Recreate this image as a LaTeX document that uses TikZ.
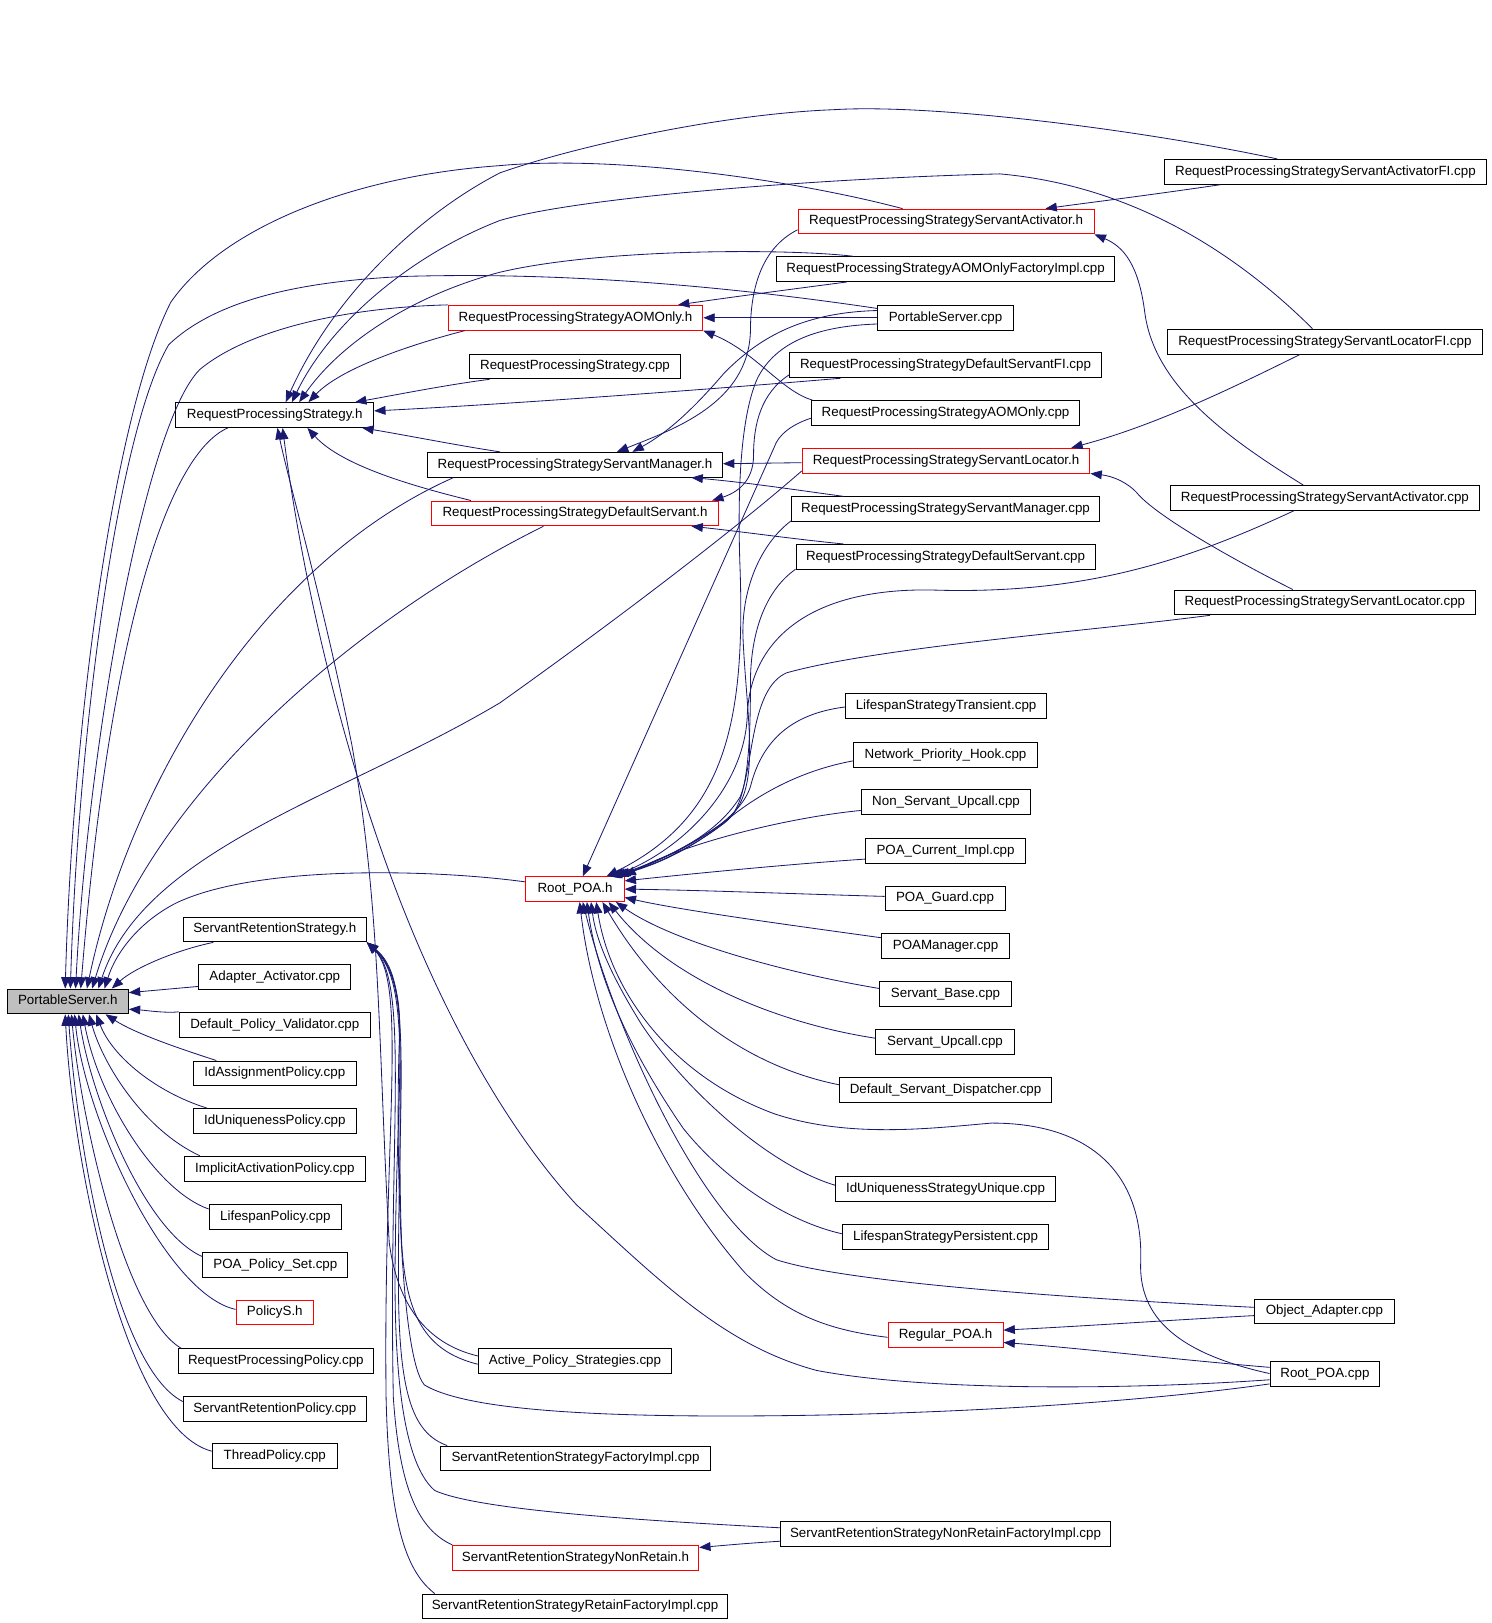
\documentclass[tikz,border=0pt]{standalone}
\usepackage{fontspec}
\setmainfont{Liberation Sans}
\usetikzlibrary{arrows.meta}
\definecolor{edgecol}{RGB}{25,25,112}
\definecolor{psgray}{RGB}{191,191,191}
\begin{document}
\begin{tikzpicture}[x=1pt,y=-1pt,
  box/.style={draw=black, line width=0.9pt, minimum height=24pt, inner sep=0pt,
    text height=9.4pt, text depth=2.7pt, font=\fontsize{12.9}{15}\selectfont, fill=white},
  rbox/.style={box, draw=red},
  e/.style={draw=edgecol, line width=0.8pt, -{Triangle[length=11pt,width=8.5pt]}}]
\useasboundingbox (0,0) rectangle (1441,1568);
% column 1
\node[box, fill=psgray, minimum width=117pt] (ps) at (65.5,967.5) {PortableServer.h};
% column 2
\node[box, minimum width=191pt] (rps) at (265.5,401) {RequestProcessingStrategy.h};
\node[box, minimum width=177pt] (srs) at (265.5,898) {ServantRetentionStrategy.h};
\node[box, minimum width=147pt] (aa) at (265.5,944) {Adapter\_Activator.cpp};
\node[box, minimum width=185pt] (dpv) at (265.5,990) {Default\_Policy\_Validator.cpp};
\node[box, minimum width=157pt] (iap) at (265.5,1037) {IdAssignmentPolicy.cpp};
\node[box, minimum width=157pt] (iup) at (265.5,1083) {IdUniquenessPolicy.cpp};
\node[box, minimum width=175pt] (iac) at (265.5,1129) {ImplicitActivationPolicy.cpp};
\node[box, minimum width=128pt] (lp) at (266,1176) {LifespanPolicy.cpp};
\node[box, minimum width=140pt] (pps) at (266,1222) {POA\_Policy\_Set.cpp};
\node[rbox, minimum width=75pt] (pol) at (265.5,1268) {PolicyS.h};
\node[box, minimum width=189pt] (rpp) at (266.5,1315) {RequestProcessingPolicy.cpp};
\node[box, minimum width=177pt] (srp) at (265.5,1361) {ServantRetentionPolicy.cpp};
\node[box, minimum width=121pt] (tp) at (265.5,1407) {ThreadPolicy.cpp};
% column 3
\node[rbox, minimum width=246pt] (aomh) at (556,307) {RequestProcessingStrategyAOMOnly.h};
\node[box, minimum width=203pt] (rpscpp) at (555.5,354) {RequestProcessingStrategy.cpp};
\node[box, minimum width=285pt] (smh) at (555.5,449) {RequestProcessingStrategyServantManager.h};
\node[rbox, minimum width=277pt] (dsh) at (555.5,496) {RequestProcessingStrategyDefaultServant.h};
\node[rbox, minimum width=95pt] (rooth) at (555.5,859) {Root\_POA.h};
\node[box, minimum width=187pt] (aps) at (555.5,1315) {Active\_Policy\_Strategies.cpp};
\node[box, minimum width=260pt] (srsfi) at (556,1409) {ServantRetentionStrategyFactoryImpl.cpp};
\node[rbox, minimum width=238pt] (nrh) at (556,1505) {ServantRetentionStrategyNonRetain.h};
\node[box, minimum width=295pt] (rfi) at (555.5,1552) {ServantRetentionStrategyRetainFactoryImpl.cpp};
% column 4
\node[rbox, minimum width=286pt] (sah) at (914,214) {RequestProcessingStrategyServantActivator.h};
\node[box, minimum width=327pt] (aomfi) at (913.5,260) {RequestProcessingStrategyAOMOnlyFactoryImpl.cpp};
\node[box, minimum width=131pt] (pscpp) at (913.5,307) {PortableServer.cpp};
\node[box, minimum width=301pt] (dsfi) at (913.5,353) {RequestProcessingStrategyDefaultServantFI.cpp};
\node[box, minimum width=259pt] (aomcpp) at (913.5,399) {RequestProcessingStrategyAOMOnly.cpp};
\node[rbox, minimum width=278pt] (slh) at (914,445) {RequestProcessingStrategyServantLocator.h};
\node[box, minimum width=297pt] (smcpp) at (913.5,492) {RequestProcessingStrategyServantManager.cpp};
\node[box, minimum width=289pt] (dscpp) at (913.5,538) {RequestProcessingStrategyDefaultServant.cpp};
\node[box, minimum width=194pt] (lst) at (914,682) {LifespanStrategyTransient.cpp};
\node[box, minimum width=177pt] (nph) at (913.5,729) {Network\_Priority\_Hook.cpp};
\node[box, minimum width=164pt] (nsu) at (914,775) {Non\_Servant\_Upcall.cpp};
\node[box, minimum width=155pt] (pci) at (913.5,822) {POA\_Current\_Impl.cpp};
\node[box, minimum width=116pt] (pg) at (913,868) {POA\_Guard.cpp};
\node[box, minimum width=123pt] (pm) at (913.5,914) {POAManager.cpp};
\node[box, minimum width=127pt] (sb) at (913.5,960) {Servant\_Base.cpp};
\node[box, minimum width=134pt] (su) at (913,1007) {Servant\_Upcall.cpp};
\node[box, minimum width=205pt] (dsd) at (913.5,1053) {Default\_Servant\_Dispatcher.cpp};
\node[box, minimum width=213pt] (ius) at (913.5,1149) {IdUniquenessStrategyUnique.cpp};
\node[box, minimum width=199pt] (lsp) at (913.5,1195) {LifespanStrategyPersistent.cpp};
\node[rbox, minimum width=111pt] (regh) at (913.5,1290) {Regular\_POA.h};
\node[box, minimum width=319pt] (nrfi) at (913.5,1482) {ServantRetentionStrategyNonRetainFactoryImpl.cpp};
% column 5
\node[box, minimum width=311pt] (safi) at (1280.5,166) {RequestProcessingStrategyServantActivatorFI.cpp};
\node[box, minimum width=304pt] (slfi) at (1280,330) {RequestProcessingStrategyServantLocatorFI.cpp};
\node[box, minimum width=298pt] (sacpp) at (1280,481) {RequestProcessingStrategyServantActivator.cpp};
\node[box, minimum width=290pt] (slcpp) at (1280,582) {RequestProcessingStrategyServantLocator.cpp};
\node[box, minimum width=135pt] (oa) at (1279.5,1267) {Object\_Adapter.cpp};
\node[box, minimum width=106pt] (rootcpp) at (1280,1327) {Root\_POA.cpp};

% into PortableServer.h
\draw[e] (sah.north -| 872,0) .. controls (760,172) and (590,150) .. (483,160) .. controls (340,170) and (215,220) .. (165,292) .. controls (110,400) and (70,700) .. (ps.north -| 63,0);
\draw[e] (pscpp.west |- 0,298) .. controls (740,282) and (570,262) .. (393,267) .. controls (280,272) and (205,293) .. (163,333) .. controls (112,420) and (75,720) .. (ps.north -| 68,0);
\draw[e] (aomh.north west) .. controls (335,297) and (240,318) .. (193,357) .. controls (140,410) and (85,720) .. (ps.north -| 73,0);
\draw[e] (rps.south -| 220,0) .. controls (160,440) and (105,620) .. (ps.north -| 78,0);
\draw[e] (smh.south -| 438,0) .. controls (250,545) and (125,760) .. (ps.north -| 84,0);
\draw[e] (dsh.south -| 525,0) .. controls (340,600) and (145,770) .. (ps.north -| 89,0);
\draw[e] (slh.west |- 0,455) .. controls (700,520) and (580,610) .. (483,679) .. controls (330,770) and (140,820) .. (ps.north -| 95,0);
\draw[e] (rooth.west |- 0,852) .. controls (420,840) and (250,835) .. (171,872) .. controls (135,890) and (112,920) .. (ps.north -| 101,0);
\draw[e] (srs.south -| 206,0) .. controls (170,918) and (130,935) .. (ps.north -| 108,0);
\draw[e] (aa.west |- 0,953) -- (ps.east |- 0,959);
\draw[e] (dpv.north west) .. controls (160,979) and (140,976) .. (ps.east |- 0,975);
\draw[e] (iap.north -| 209,0) .. controls (170,1012) and (130,998) .. (ps.south -| 102,0);
\draw[e] (iup.north -| 200,0) .. controls (150,1055) and (108,1020) .. (ps.south -| 93,0);
\draw[e] (iac.north -| 193,0) .. controls (140,1092) and (100,1030) .. (ps.south -| 86,0);
\draw[e] (lp.west |- 0,1168) .. controls (150,1150) and (95,1060) .. (ps.south -| 80,0);
\draw[e] (pps.west |- 0,1214) .. controls (140,1190) and (88,1060) .. (ps.south -| 76,0);
\draw[e] (pol.west |- 0,1265) .. controls (160,1250) and (82,1080) .. (ps.south -| 72,0);
\draw[e] (rpp.north -| 175,0) .. controls (120,1270) and (78,1080) .. (ps.south -| 69,0);
\draw[e] (srp.west |- 0,1354) .. controls (110,1320) and (74,1100) .. (ps.south -| 66,0);
\draw[e] (tp.west |- 0,1402) .. controls (120,1380) and (70,1120) .. (ps.south -| 63,0);
% into RequestProcessingStrategy.h
\draw[e] (safi.north -| 1234,0) .. controls (1100,125) and (900,100) .. (805,106) .. controls (700,110) and (560,140) .. (483,167) .. controls (400,210) and (320,290) .. (rps.north -| 276,0);
\draw[e] (slfi.north -| 1268,0) .. controls (1200,250) and (1100,180) .. (966,168) .. controls (800,172) and (560,190) .. (483,213) .. controls (400,245) and (320,310) .. (rps.north -| 282,0);
\draw[e] (aomfi.north -| 824,0) .. controls (760,240) and (580,240) .. (483,263) .. controls (400,285) and (330,330) .. (rps.north -| 289,0);
\draw[e] (aomh.south -| 449,0) .. controls (400,332) and (330,355) .. (rps.north -| 298,0);
\draw[e] (rpscpp.south -| 473,0) .. controls (430,372) and (380,382) .. (rps.north -| 343,0);
\draw[e] (dsfi.south -| 812,0) .. controls (700,375) and (500,390) .. (rps.east |- 0,397);
\draw[e] (smh.north -| 483,0) .. controls (440,430) and (390,420) .. (rps.south -| 350,0);
\draw[e] (dsh.north -| 455,0) .. controls (400,470) and (330,450) .. (rps.south -| 297,0);
\draw[e] (aps.west |- 0,1310) .. controls (420,1300) and (385,1270) .. (376,1200) .. controls (365,1000) and (368,880) .. (340,720) .. controls (312,580) and (280,470) .. (rps.south -| 268,0);
\draw[e] (rootcpp.west |- 0,1333) .. controls (1100,1342) and (900,1345) .. (789,1324) .. controls (700,1300) and (640,1240) .. (557,1164) .. controls (480,1080) and (420,960) .. (380,853) .. controls (330,720) and (292,560) .. (rps.south -| 273,0);
% into ServantRetentionStrategy.h
\draw[e] (aps.west |- 0,1318) .. controls (410,1305) and (392,1270) .. (388,1200) .. controls (382,1050) and (398,950) .. (srs.south east);
\draw[e] (srsfi.north -| 432,0) .. controls (400,1385) and (386,1350) .. (385,1250) .. controls (384,1050) and (400,950) .. (srs.south east);
\draw[e] (nrfi.west |- 0,1476) .. controls (600,1468) and (460,1458) .. (420,1440) .. controls (385,1410) and (380,1300) .. (382,1200) .. controls (384,1030) and (398,945) .. (srs.south east);
\draw[e] (nrh.north -| 437,0) .. controls (405,1478) and (386,1440) .. (380,1350) .. controls (375,1100) and (396,950) .. (srs.south east);
\draw[e] (rfi.north -| 420,0) .. controls (395,1520) and (376,1480) .. (373,1350) .. controls (370,1100) and (394,950) .. (srs.south east);
\draw[e] (rootcpp.west |- 0,1337) .. controls (1100,1355) and (900,1368) .. (700,1368) .. controls (520,1368) and (440,1356) .. (410,1338) .. controls (386,1310) and (382,1100) .. (386,1000) .. controls (388,950) and (372,925) .. (srs.south east);
% into AOMOnly.h
\draw[e] (pscpp.west |- 0,307) -- (aomh.east |- 0,307);
\draw[e] (aomfi.south -| 818,0) .. controls (760,280) and (700,288) .. (aomh.north -| 655,0);
\draw[e] (aomcpp.north -| 785,0) .. controls (755,378) and (730,340) .. (aomh.south east);
% into ServantActivator.h
\draw[e] (safi.south -| 1179,0) .. controls (1100,190) and (1050,196) .. (sah.north -| 1010,0);
\draw[e] (sacpp.north -| 1259,0) .. controls (1180,420) and (1115,370) .. (1106,302) .. controls (1100,255) and (1085,238) .. (sah.south east);
% into ServantLocator.h
\draw[e] (slfi.south -| 1256,0) .. controls (1200,370) and (1120,410) .. (slh.north -| 1035,0);
\draw[e] (slcpp.north -| 1249,0) .. controls (1190,540) and (1120,500) .. (1100,478) .. controls (1090,466) and (1075,460) .. (slh.south east);
% into ServantManager.h
\draw[e] (slh.west |- 0,447) -- (smh.east |- 0,448);
\draw[e] (smcpp.north -| 815,0) .. controls (760,472) and (720,466) .. (smh.south -| 668,0);
\draw[e] (pscpp.west |- 0,300) .. controls (770,302) and (730,330) .. (700,360) .. controls (670,395) and (645,418) .. (smh.north -| 611,0);
\draw[e] (sah.west |- 0,222) .. controls (735,240) and (725,280) .. (725,320) .. controls (723,390) and (650,415) .. (smh.north -| 596,0);
% into DefaultServant.h
\draw[e] (dsfi.west |- 0,362) .. controls (735,380) and (728,410) .. (728,440) .. controls (728,465) and (712,476) .. (dsh.north -| 688,0);
\draw[e] (dscpp.north -| 815,0) .. controls (760,520) and (720,514) .. (dsh.south -| 668,0);
% into Root_POA.h
\draw[e] (pci.west |- 0,830) .. controls (760,835) and (660,845) .. (rooth.east |- 0,851);
\draw[e] (pg.west |- 0,866) .. controls (780,864) and (680,860) .. (rooth.east |- 0,859);
\draw[e] (pm.west |- 0,906) .. controls (780,896) and (660,880) .. (rooth.east |- 0,867);
\draw[e] (sb.west |- 0,955) .. controls (760,940) and (650,910) .. (rooth.south -| 595,0);
\draw[e] (su.west |- 0,1003) .. controls (760,990) and (650,950) .. (rooth.south -| 588,0);
\draw[e] (dsd.west |- 0,1048) .. controls (720,1030) and (640,970) .. (rooth.south -| 582,0);
\draw[e] (rootcpp.west |- 0,1327) .. controls (1150,1310) and (1100,1280) .. (1102,1220) .. controls (1105,1140) and (1060,1085) .. (958,1085) .. controls (900,1090) and (820,1100) .. (748,1076) .. controls (650,1040) and (590,960) .. (rooth.south -| 576,0);
\draw[e] (ius.west |- 0,1145) .. controls (740,1125) and (660,1050) .. (620,990) .. controls (592,945) and (576,910) .. (rooth.south -| 571,0);
\draw[e] (lsp.west |- 0,1192) .. controls (760,1180) and (700,1140) .. (660,1090) .. controls (612,1020) and (578,950) .. (rooth.south -| 567,0);
\draw[e] (oa.west |- 0,1263) .. controls (1050,1255) and (820,1240) .. (750,1217) .. controls (680,1180) and (595,1000) .. (rooth.south -| 563,0);
\draw[e] (regh.west |- 0,1292) .. controls (800,1285) and (760,1270) .. (720,1230) .. controls (640,1140) and (575,1000) .. (rooth.south -| 560,0);
\draw[e] (aomcpp.west |- 0,404) .. controls (765,410) and (752,420) .. (748,432) -- (rooth.north -| 563,0);
\draw[e] (lst.west |- 0,683) .. controls (760,690) and (735,720) .. (725,760) .. controls (712,800) and (640,830) .. (rooth.north -| 598,0);
\draw[e] (nph.west |- 0,735) .. controls (770,745) and (730,770) .. (705,790) .. controls (672,815) and (630,835) .. (rooth.north -| 596,0);
\draw[e] (nsu.west |- 0,783) .. controls (760,790) and (660,815) .. (rooth.north east);
\draw[e] (sacpp.south -| 1250,0) .. controls (1150,540) and (1050,575) .. (900,570) .. controls (780,568) and (725,620) .. (722,690) .. controls (720,760) and (660,820) .. (rooth.north -| 592,0);
\draw[e] (slcpp.south -| 1169,0) .. controls (1050,610) and (850,625) .. (760,650) .. controls (725,665) and (728,740) .. (715,770) .. controls (690,810) and (640,830) .. (rooth.north -| 594,0);
\draw[e] (smcpp.west |- 0,503) .. controls (735,525) and (715,570) .. (718,620) .. controls (722,700) and (735,760) .. (705,790) .. controls (670,820) and (630,838) .. (rooth.north -| 590,0);
\draw[e] (dscpp.west |- 0,550) .. controls (740,570) and (725,610) .. (725,660) .. controls (725,740) and (720,780) .. (700,795) .. controls (670,818) and (630,838) .. (rooth.north -| 588,0);
\draw[e] (pscpp.west |- 0,313) .. controls (790,315) and (750,330) .. (732,365) .. controls (716,400) and (712,470) .. (715,550) .. controls (720,700) and (700,790) .. (rooth.north -| 586,0);
% into Regular_POA.h
\draw[e] (oa.west |- 0,1271) .. controls (1120,1276) and (1050,1281) .. (regh.east |- 0,1285);
\draw[e] (rootcpp.west |- 0,1321) .. controls (1120,1312) and (1050,1303) .. (regh.east |- 0,1297);
% into ServantRetentionStrategyNonRetain.h
\draw[e] (nrfi.west |- 0,1489) .. controls (720,1491) and (700,1493) .. (nrh.east |- 0,1495);
\end{tikzpicture}
\end{document}
